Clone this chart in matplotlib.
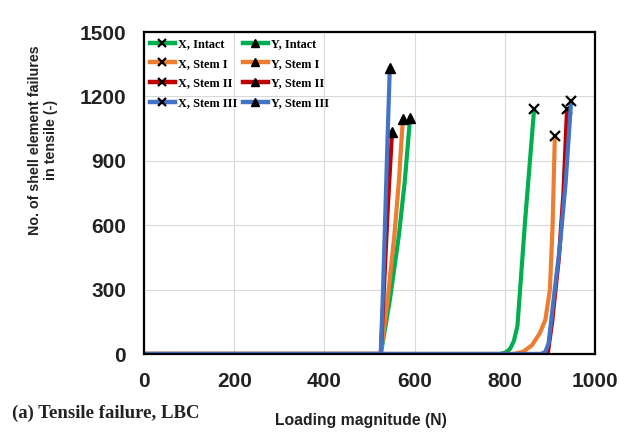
import matplotlib
matplotlib.use("Agg")
import matplotlib.pyplot as plt

# ---- data ----
x_intact_x = [0, 790, 803, 812, 820, 828, 845, 865]
x_intact_y = [0, 0, 8, 25, 60, 130, 620, 1141]
x_stem1_x = [0, 820, 840, 860, 878, 890, 900, 906, 911]
x_stem1_y = [0, 0, 10, 40, 98, 160, 300, 600, 1015]
x_stem2_x = [0, 895, 905, 920, 930, 938]
x_stem2_y = [0, 0, 150, 450, 750, 1141]
x_stem3_x = [0, 880, 890, 897, 908, 922, 935, 947]
x_stem3_y = [0, 0, 10, 50, 250, 500, 800, 1178]

y_intact_x = [0, 525, 545, 565, 578, 590]
y_intact_y = [0, 0, 250, 550, 800, 1100]
y_stem1_x = [0, 525, 540, 555, 565, 574]
y_stem1_y = [0, 0, 250, 550, 800, 1095]
y_stem2_x = [0, 525, 533, 541, 550]
y_stem2_y = [0, 0, 350, 700, 1034]
y_stem3_x = [0, 525, 530, 535, 540, 545]
y_stem3_y = [0, 0, 300, 650, 1000, 1332]

labels_x = ["X, Intact", "X, Stem I", "X, Stem II", "X, Stem III"]
labels_y = ["Y, Intact", "Y, Stem I", "Y, Stem II", "Y, Stem III"]
colors = ["#00B050", "#ED7D31", "#C00000", "#4472C4"]

xs_X = [x_intact_x, x_stem1_x, x_stem2_x, x_stem3_x]
ys_X = [x_intact_y, x_stem1_y, x_stem2_y, x_stem3_y]
xs_Y = [y_intact_x, y_stem1_x, y_stem2_x, y_stem3_x]
ys_Y = [y_intact_y, y_stem1_y, y_stem2_y, y_stem3_y]

fig = plt.figure(figsize=(6.32, 4.32), dpi=100)
ax = fig.add_axes([144/632, 1-354/432, (595-144)/632, (354-32)/432])

lw = 3.0
hx, hy = [], []
for xx, yy, c, lab in zip(xs_X, ys_X, colors, labels_x):
    l, = ax.plot(xx, yy, color=c, lw=lw, marker="x", markevery=[-1],
                 mec="black", mfc="black", ms=7, mew=1.6, label=lab,
                 solid_joinstyle="round")
    hx.append(l)
for xx, yy, c, lab in zip(xs_Y, ys_Y, colors, labels_y):
    l, = ax.plot(xx, yy, color=c, lw=lw, marker="^", markevery=[-1],
                 mec="black", mfc="black", ms=7, label=lab,
                 solid_joinstyle="round")
    hy.append(l)

ax.set_xlim(0, 1000)
ax.set_ylim(0, 1500)
ax.set_xticks([0, 200, 400, 600, 800, 1000])
ax.set_yticks([0, 300, 600, 900, 1200, 1500])
ax.grid(True, color="#D9D9D9", lw=0.8)
ax.set_axisbelow(True)
for s in ax.spines.values():
    s.set_color("black")
    s.set_linewidth(1.6)
ax.tick_params(length=0, labelsize=15)
ax.tick_params(axis="y", pad=13)
ax.tick_params(axis="x", pad=13)
for t in ax.get_xticklabels() + ax.get_yticklabels():
    t.set_fontweight("bold")
    t.set_family("Liberation Sans")
    t.set_color("#222222")

leg = ax.legend(handles=hx + hy, ncol=2, loc="upper left",
                bbox_to_anchor=(0.0, 1.0), frameon=False, numpoints=1,
                prop={"family": "Liberation Serif", "weight": "bold", "size": 8.8},
                handlelength=2.0, handletextpad=0.3, columnspacing=0.45,
                labelspacing=0.62, borderaxespad=0.3, borderpad=0.2)
for h in leg.legend_handles:
    h.set_markersize(5.5)
    h.set_linewidth(3.2)

fig.text(43/632, 1-140/432, "No. of shell element failures\nin tensile (-)",
         rotation=90, ha="center", va="center", multialignment="center",
         fontsize=10.3, fontweight="bold", family="Liberation Sans", linespacing=1.15,
         color="#222222")
fig.text(275/632, 1-421/432, "Loading magnitude (N)", ha="left", va="center",
         fontsize=11.3, fontweight="bold", family="Liberation Sans", color="#222222")
fig.text(12/632, 1-413/432, "(a) Tensile failure, LBC", ha="left", va="center",
         fontsize=13.5, fontweight="bold", family="Liberation Serif", color="#222222")

fig.savefig("out.png", dpi=100)
